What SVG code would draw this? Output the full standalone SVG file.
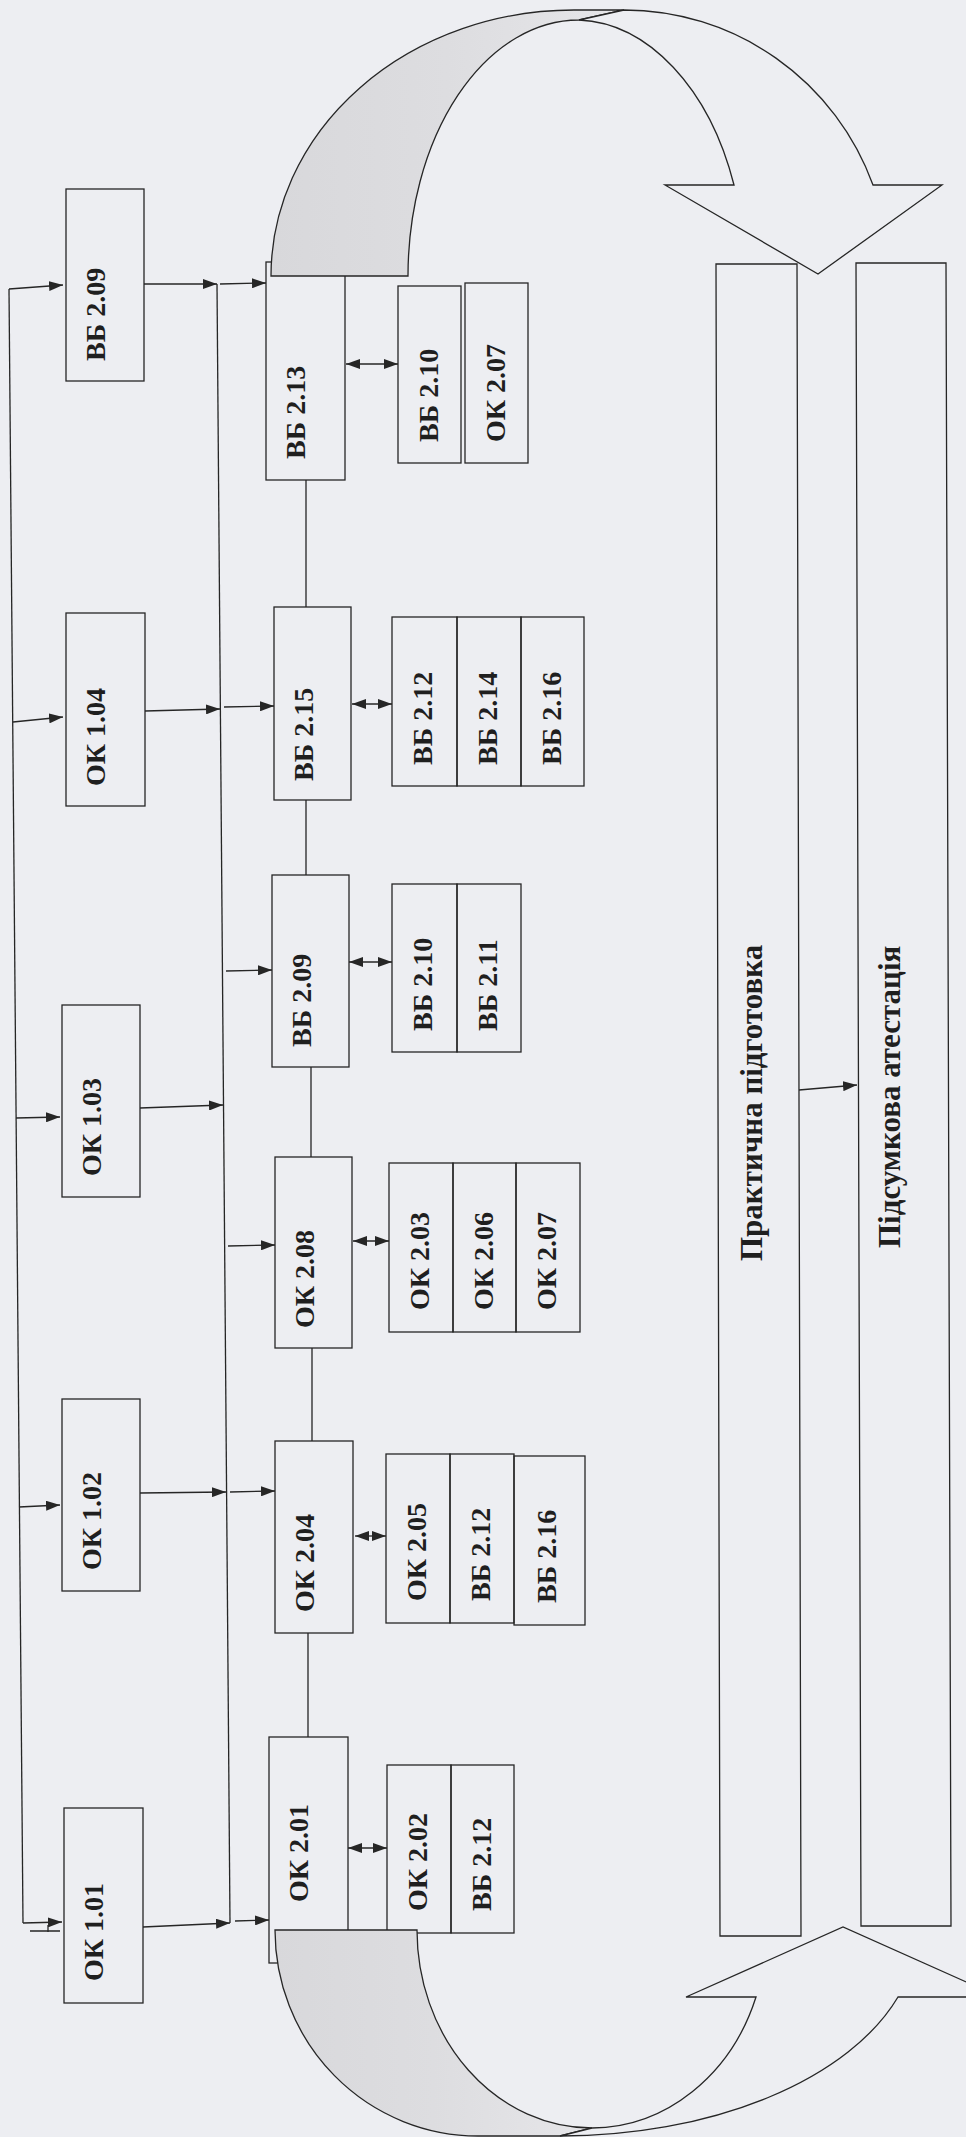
<svg xmlns="http://www.w3.org/2000/svg" width="966" height="2137" viewBox="0 0 966 2137">
<defs>
<style>
.bx{fill:none;stroke:#262626;stroke-width:1.3}
.ln{fill:none;stroke:#262626;stroke-width:1.3}
.ar{fill:none;stroke:#262626;stroke-width:1.3;marker-end:url(#ah)}
.da{fill:none;stroke:#262626;stroke-width:1.3;marker-start:url(#ah);marker-end:url(#ah)}
.t{font-family:"Liberation Serif","Times New Roman",serif;font-weight:bold;font-size:28px;fill:#1f1f1f}
.tb{font-size:31px}
.sh{fill:url(#gr);stroke:#262626;stroke-width:1.3}
.wh{fill:#edeef2;stroke:#262626;stroke-width:1.3}
</style>
<marker id="ah" viewBox="0 0 14 10" refX="14" refY="5" markerWidth="14" markerHeight="10" markerUnits="userSpaceOnUse" orient="auto-start-reverse">
<path d="M0,0 L14,5 L0,10 Z" fill="#262626"/>
</marker>
<linearGradient id="gr" x1="0" y1="0" x2="1" y2="0">
<stop offset="0" stop-color="#d8d8db"/>
<stop offset="0.5" stop-color="#dddde0"/>
<stop offset="1" stop-color="#e6e6e9"/>
</linearGradient>
</defs>
<rect x="0" y="0" width="966" height="2137" fill="#edeef2"/>

<g id="connectors">
<path class="ln" d="M9,289 L23,1923"/>
<path class="ar" d="M9,289 L63,285"/>
<path class="ar" d="M13,722 L63,717"/>
<path class="ar" d="M16,1118 L60,1117"/>
<path class="ar" d="M19,1507 L60,1505"/>
<path class="ar" d="M23,1923 L62,1922"/>
<path class="ln" d="M30,1931 L60,1931 M48,1925 L48,1932"/>
<path class="ln" d="M217,284 L230,1923"/>
<path class="ar" d="M144,284 L217,284"/>
<path class="ar" d="M145,711 L220,709"/>
<path class="ar" d="M140,1108 L223,1105"/>
<path class="ar" d="M140,1493 L226,1492"/>
<path class="ar" d="M143,1927 L230,1923"/>
<path class="ar" d="M220,284 L266,283"/>
<path class="ar" d="M224,707 L274,706"/>
<path class="ar" d="M226,971 L272,970"/>
<path class="ar" d="M228,1246 L275,1245"/>
<path class="ar" d="M230,1492 L275,1491"/>
<path class="ar" d="M235,1921 L269,1920"/>
<path class="ln" d="M306,480 L306,607 M306,800 L306,875 M311,1067 L311,1157 M312,1348 L312,1441 M308,1633 L308,1737"/>
<path class="da" d="M346,364 L398,364"/>
<path class="da" d="M352,704 L392,704"/>
<path class="da" d="M349,962 L392,962"/>
<path class="da" d="M353,1241 L389,1241"/>
<path class="da" d="M355,1536 L386,1536"/>
<path class="da" d="M348,1848 L387,1848"/>
<path class="ar" d="M799,1090 L857,1085"/>
</g>

<g id="top-row">
<g id="n-vb209a"><rect class="bx" x="66" y="189" width="78" height="192"/><text class="t" transform="translate(105,361) rotate(-90)">ВБ 2.09</text></g>
<g id="n-ok104"><rect class="bx" x="66" y="613" width="79" height="193"/><text class="t" transform="translate(105,786) rotate(-90)">ОК 1.04</text></g>
<g id="n-ok103"><rect class="bx" x="62" y="1005" width="78" height="192"/><text class="t" transform="translate(101,1176) rotate(-90)">ОК 1.03</text></g>
<g id="n-ok102"><rect class="bx" x="62" y="1399" width="78" height="192"/><text class="t" transform="translate(101,1570) rotate(-90)">ОК 1.02</text></g>
<g id="n-ok101"><rect class="bx" x="64" y="1808" width="79" height="195"/><text class="t" transform="translate(103,1981) rotate(-90)">ОК 1.01</text></g>
</g>

<g id="middle-row">
<g id="n-vb213"><rect class="bx" x="266" y="262" width="79" height="218"/><text class="t" transform="translate(305,459) rotate(-90)">ВБ 2.13</text></g>
<g id="n-vb215"><rect class="bx" x="274" y="607" width="77" height="193"/><text class="t" transform="translate(313,781) rotate(-90)">ВБ 2.15</text></g>
<g id="n-vb209b"><rect class="bx" x="272" y="875" width="77" height="192"/><text class="t" transform="translate(311,1047) rotate(-90)">ВБ 2.09</text></g>
<g id="n-ok208"><rect class="bx" x="275" y="1157" width="77" height="191"/><text class="t" transform="translate(314,1328) rotate(-90)">ОК 2.08</text></g>
<g id="n-ok204"><rect class="bx" x="275" y="1441" width="78" height="192"/><text class="t" transform="translate(314,1612) rotate(-90)">ОК 2.04</text></g>
<g id="n-ok201"><rect class="bx" x="269" y="1737" width="79" height="226"/><text class="t" transform="translate(308,1902) rotate(-90)">ОК 2.01</text></g>
</g>

<g id="sub-boxes">
<g id="n-g213"><rect class="bx" x="398" y="286" width="63" height="177"/><text class="t" transform="translate(438,442) rotate(-90)">ВБ 2.10</text><rect class="bx" x="465" y="283" width="63" height="180"/><text class="t" transform="translate(505,442) rotate(-90)">ОК 2.07</text></g>
<g id="n-g215"><rect class="bx" x="392" y="617" width="65" height="169"/><text class="t" transform="translate(432,765) rotate(-90)">ВБ 2.12</text><rect class="bx" x="457" y="617" width="64" height="169"/><text class="t" transform="translate(497,765) rotate(-90)">ВБ 2.14</text><rect class="bx" x="521" y="617" width="63" height="169"/><text class="t" transform="translate(561,765) rotate(-90)">ВБ 2.16</text></g>
<g id="n-g209"><rect class="bx" x="392" y="884" width="65" height="168"/><text class="t" transform="translate(432,1031) rotate(-90)">ВБ 2.10</text><rect class="bx" x="457" y="884" width="64" height="168"/><text class="t" transform="translate(497,1031) rotate(-90)">ВБ 2.11</text></g>
<g id="n-g208"><rect class="bx" x="389" y="1163" width="64" height="169"/><text class="t" transform="translate(429,1310) rotate(-90)">ОК 2.03</text><rect class="bx" x="453" y="1163" width="63" height="169"/><text class="t" transform="translate(493,1310) rotate(-90)">ОК 2.06</text><rect class="bx" x="516" y="1163" width="64" height="169"/><text class="t" transform="translate(556,1310) rotate(-90)">ОК 2.07</text></g>
<g id="n-g204"><rect class="bx" x="386" y="1454" width="64" height="169"/><text class="t" transform="translate(426,1601) rotate(-90)">ОК 2.05</text><rect class="bx" x="450" y="1454" width="64" height="169"/><text class="t" transform="translate(490,1601) rotate(-90)">ВБ 2.12</text><rect class="bx" x="514" y="1456" width="71" height="169"/><text class="t" transform="translate(556,1603) rotate(-90)">ВБ 2.16</text></g>
<g id="n-g201"><rect class="bx" x="387" y="1765" width="64" height="168"/><text class="t" transform="translate(427,1911) rotate(-90)">ОК 2.02</text><rect class="bx" x="451" y="1765" width="63" height="168"/><text class="t" transform="translate(491,1911) rotate(-90)">ВБ 2.12</text></g>
</g>

<g id="n-practice"><polygon class="bx" points="716,264 797,264 801,1936 720,1936"/><text class="t tb" transform="translate(762,1261) rotate(-90)">Практична підготовка</text></g>
<g id="n-attestation"><polygon class="bx" points="856,263 946,263 951,1926 861,1926"/><text class="t tb" transform="translate(900,1248) rotate(-90)">Підсумкова атестація</text></g>

<g id="cycle-arrows">
<path class="sh" d="M271,276 A303,266 0 0 1 574,10 L624,10 L579,20 A171,256 0 0 0 408,276 Z"/>
<path class="wh" d="M579,20 L624,10 A265,266 0 0 1 873,185 L942,185 L818,274 L665,185 L734,185 A171,256 0 0 0 579,20 Z"/>
<path class="sh" d="M275,1930 A203,206 0 0 0 478,2136 L560,2136 L592,2128 A175,198 0 0 1 417,1930 Z"/>
<path class="wh" d="M560,2136 A357,206 0 0 0 898,1997 L1000,1997 L843,1927 L686,1997 L756,1997 A175,198 0 0 1 592,2128 Z"/>
</g>
</svg>
